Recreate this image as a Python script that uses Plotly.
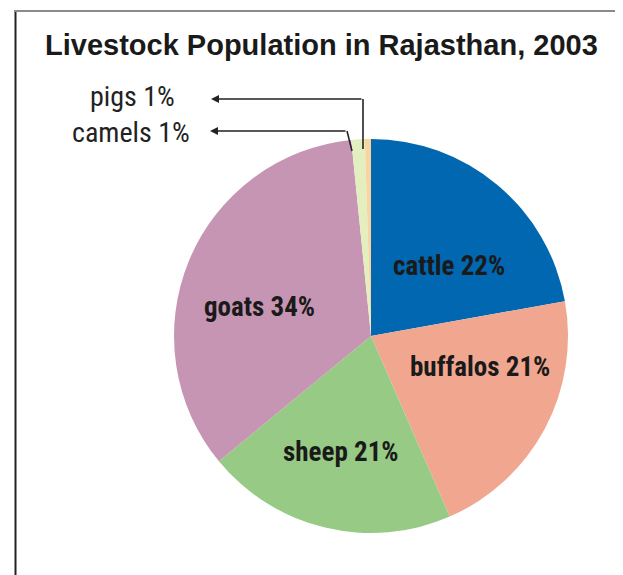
import plotly.graph_objects as go

categories = ["cattle", "buffalos", "sheep", "goats", "camels", "pigs"]
shares = [22.2, 21.3, 20.6, 34.4, 1.1, 0.5]
pct_labels = ["22%", "21%", "21%", "34%", "1%", "1%"]
colors = ["#0067B0", "#F1A78F", "#97CA84", "#C795B4", "#E4EFC0", "#F9D49E"]

# page body has an 8px margin; map target-picture pixels to figure paper coords
OFF = 8
W, H = 623 - OFF, 575 - OFF
def px(x):
    return (x - OFF) / W
def py(y):
    return 1 - (y - OFF) / H

cx, cy, r = 371, 336, 197

fig = go.Figure(go.Pie(
    labels=categories, values=shares, sort=False, direction="clockwise", rotation=0,
    marker=dict(colors=colors, line=dict(width=0)),
    textinfo="none", hoverinfo="label+percent", showlegend=False,
    domain=dict(x=[px(cx - r), px(cx + r)], y=[py(cy + r), py(cy - r)]),
))

narrow = "Roboto Condensed, Liberation Sans Narrow, Arial Narrow, Liberation Sans, Arial, sans-serif"

annotations = [
    dict(x=px(321), y=py(45), text="<b>Livestock Population in Rajasthan, 2003</b>",
         font=dict(family="Liberation Sans, Arial, sans-serif", size=29, color="#1a1a1a")),
]
inside_pos = {"cattle": (449, 266), "buffalos": (480, 367), "sheep": (341, 452), "goats": (259, 307)}
for c, p in zip(categories, pct_labels):
    if c in inside_pos:
        x, y = inside_pos[c]
        annotations.append(dict(x=px(x), y=py(y), text=f"<b>{c} {p}</b>",
                                font=dict(family=narrow, size=27, color="#1a1a1a")))
outside_pos = {"pigs": (132, 97), "camels": (131, 133)}
for c, p in zip(categories, pct_labels):
    if c in outside_pos:
        x, y = outside_pos[c]
        annotations.append(dict(x=px(x), y=py(y), text=f"{c} {p}",
                                font=dict(family=narrow, size=28, color="#222222")))
# arrows
annotations.append(dict(x=px(211), y=py(99), ax=363 - 211, ay=0, text="", showarrow=True,
                        arrowhead=2, arrowsize=1, arrowwidth=1.6, arrowcolor="#222222"))
annotations.append(dict(x=px(210), y=py(131), ax=347 - 210, ay=0, text="", showarrow=True,
                        arrowhead=2, arrowsize=1, arrowwidth=1.6, arrowcolor="#222222"))
for a in annotations:
    a.setdefault("xref", "paper")
    a.setdefault("yref", "paper")
    a.setdefault("showarrow", False)
    a.setdefault("xanchor", "center")
    a.setdefault("yanchor", "middle")

shapes = [
    dict(type="line", xref="paper", yref="paper", x0=px(363), y0=py(99), x1=px(363), y1=py(149),
         line=dict(color="#222222", width=1.6)),
    dict(type="line", xref="paper", yref="paper", x0=px(347), y0=py(131), x1=px(352), y1=py(151),
         line=dict(color="#222222", width=1.6)),
    dict(type="line", xref="paper", yref="paper", x0=px(15.5), y0=py(10), x1=px(15.5), y1=py(580),
         line=dict(color="#222222", width=2)),
    dict(type="line", xref="paper", yref="paper", x0=px(15), y0=py(11), x1=px(622), y1=py(11),
         line=dict(color="#8a8a8a", width=2)),
    dict(type="line", xref="paper", yref="paper", x0=px(621.5), y0=py(10), x1=px(621.5), y1=py(580),
         line=dict(color="#8a8a8a", width=2)),
]

fig.update_layout(
    width=W, height=H, margin=dict(l=0, r=0, t=0, b=0),
    paper_bgcolor="white", plot_bgcolor="white",
    annotations=annotations, shapes=shapes,
)
fig.write_html("out.html")
